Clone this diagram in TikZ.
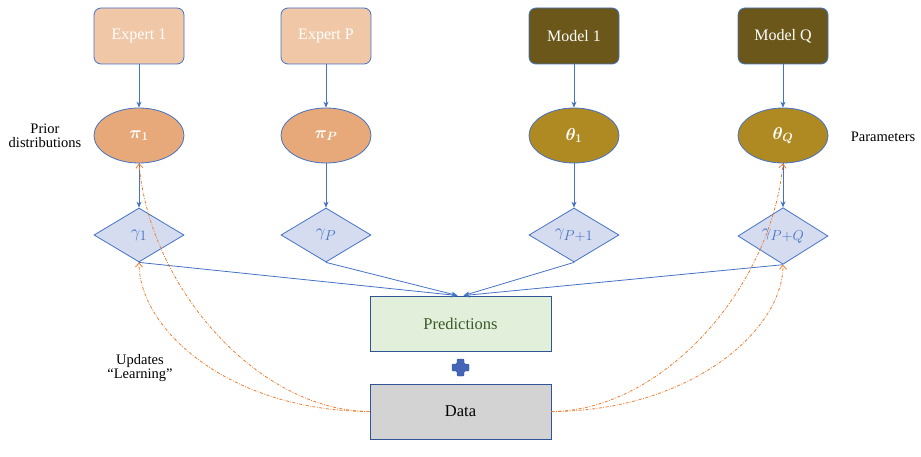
\documentclass[tikz,border=0pt]{standalone}
\usepackage{amsmath,bm}
\usepackage{fontspec}
\setmainfont{Liberation Serif}
\usetikzlibrary{shapes.geometric,arrows.meta}
\definecolor{bord}{HTML}{4472C4}
\definecolor{dkbord}{HTML}{2F5597}
\definecolor{expfill}{HTML}{F0C8A8}
\definecolor{pifill}{HTML}{E8A97A}
\definecolor{modfill}{HTML}{6B5719}
\definecolor{thfill}{HTML}{AF8A23}
\definecolor{diafill}{HTML}{D6DCF0}
\definecolor{predfill}{HTML}{E2EFDA}
\definecolor{predtext}{HTML}{3A5A28}
\definecolor{datafill}{HTML}{D3D3D3}
\definecolor{upd}{HTML}{ED7D31}
\definecolor{plusfill}{HTML}{4464B8}
\tikzset{
  topbox/.style={draw=bord, line width=0.8pt, rounded corners=7pt, minimum width=90pt, minimum height=56pt, inner sep=0pt, text=white, font=\fontsize{16}{19}\selectfont},
  ellnode/.style={ellipse, draw=bord, line width=0.8pt, minimum width=90pt, minimum height=55pt, inner sep=0pt, text=white, font=\fontsize{18}{21}\selectfont},
  dianode/.style={diamond, draw=bord, line width=0.8pt, fill=diafill, minimum width=90pt, minimum height=54pt, inner sep=0pt, text=bord, font=\fontsize{19}{22}\selectfont},
  bigbox/.style={draw=dkbord, line width=0.9pt, minimum width=181pt, minimum height=55pt, inner sep=0pt, font=\fontsize{16.5}{19}\selectfont},
  lbl/.style={align=center, font=\fontsize{14.5}{17}\selectfont},
  flow/.style={draw=bord, line width=0.8pt, -{Stealth[length=6pt,width=5pt]}},
  updarrow/.style={draw=upd, line width=0.8pt, dash pattern=on 3pt off 1.5pt on 0.8pt off 1.5pt, -{Straight Barb[length=4pt,width=7pt]}}
}
\begin{document}
\begin{tikzpicture}[x=1pt,y=-1pt]
\useasboundingbox (0,0) rectangle (921,457);
% top boxes
\node[topbox, fill=expfill] (e1) at (139,36) {Expert 1};
\node[topbox, fill=expfill] (eP) at (326,36) {Expert P};
\node[topbox, fill=modfill] (m1) at (574,36) {Model 1};
\node[topbox, fill=modfill] (mQ) at (783,36) {Model Q};
% ellipses
\node[ellnode, fill=pifill] (p1) at (139,135.5) {$\bm{\pi_1}$};
\node[ellnode, fill=pifill] (pP) at (326,135.5) {$\bm{\pi_P}$};
\node[ellnode, fill=thfill] (t1) at (574,135.5) {$\bm{\theta_1}$};
\node[ellnode, fill=thfill] (tQ) at (783,135.5) {$\bm{\theta_Q}$};
% diamonds
\node[dianode] (g1) at (139,235) {$\gamma_1$};
\node[dianode] (gP) at (326,235) {$\gamma_P$};
\node[dianode] (g2) at (574,235) {$\gamma_{P+1}$};
\node[dianode] (gQ) at (783,236) {$\gamma_{P+Q}$};
% predictions and data
\node[bigbox, fill=predfill, text=predtext] (pred) at (460.5,323.5) {Predictions};
\node[bigbox, fill=datafill] (data) at (460.5,411.5) {Data};
% plus sign
\node[inner sep=0pt, minimum size=17pt] (plus) at (460.5,367.5) {};
\fill[plusfill, draw=dkbord, line width=0.4pt, rounded corners=1pt]
  ([xshift=-3.5pt,yshift=8.5pt]plus.center) -- ([xshift=3.5pt,yshift=8.5pt]plus.center) --
  ([xshift=3.5pt,yshift=3.5pt]plus.center) -- ([xshift=8.5pt,yshift=3.5pt]plus.center) --
  ([xshift=8.5pt,yshift=-3.5pt]plus.center) -- ([xshift=3.5pt,yshift=-3.5pt]plus.center) --
  ([xshift=3.5pt,yshift=-8.5pt]plus.center) -- ([xshift=-3.5pt,yshift=-8.5pt]plus.center) --
  ([xshift=-3.5pt,yshift=-3.5pt]plus.center) -- ([xshift=-8.5pt,yshift=-3.5pt]plus.center) --
  ([xshift=-8.5pt,yshift=3.5pt]plus.center) -- ([xshift=-3.5pt,yshift=3.5pt]plus.center) -- cycle;
% labels
\node[lbl] (prior) at (45,136) {Prior\\[-3pt]distributions};
\node[lbl] (params) at (883,137) {Parameters};
\node[lbl] (updates) at (140,368) {Updates\\[-3pt]``Learning''};
% blue flows
\draw[flow] (e1) -- (p1);
\draw[flow] (eP) -- (pP);
\draw[flow] (m1) -- (t1);
\draw[flow] (mQ) -- (tQ);
\draw[flow] (p1) -- (g1);
\draw[flow] (pP) -- (gP);
\draw[flow] (t1) -- (g2);
\draw[flow] (tQ) -- (gQ);
\draw[flow] (g1.south) -- ([xshift=-3pt]pred.north);
\draw[flow] (gP.south) -- ([xshift=-3pt]pred.north);
\draw[flow] (g2.south) -- ([xshift=3pt]pred.north);
\draw[flow] (gQ.south) -- ([xshift=3pt]pred.north);
% update curves
\draw[updarrow] (data.west) .. controls (230,411) and (139,330) .. (g1.south);
\draw[updarrow] (data.west) .. controls (260,411) and (150,290) .. (p1.south);
\draw[updarrow] (data.east) .. controls (691,411) and (783,330) .. (gQ.south);
\draw[updarrow] (data.east) .. controls (661,411) and (771,290) .. (tQ.south);
\end{tikzpicture}
\end{document}
